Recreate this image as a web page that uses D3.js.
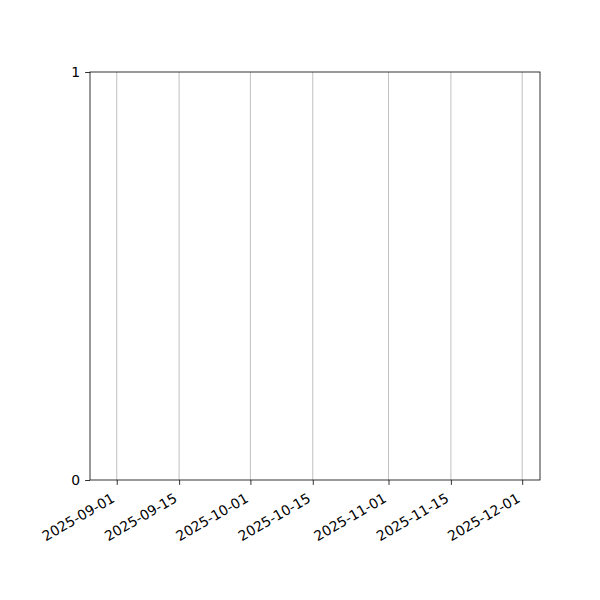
<!DOCTYPE html>
<html>
<head>
<meta charset="utf-8">
<script src="https://cdn.jsdelivr.net/npm/d3@7"></script>
<style>
  body { margin: 0; background: #fff; }
  svg { display: block; }
</style>
</head>
<body>
<svg id="chart" width="600" height="600"></svg>
<script>
// axis limits and ticks
const xDomain = ['2025-08-26', '2025-12-05'];
const xTickLabels = ['2025-09-01', '2025-09-15', '2025-10-01', '2025-10-15', '2025-11-01', '2025-11-15', '2025-12-01'];
const yDomain = [0, 1];
const yTickValues = [0, 1];

const parse = d3.utcParse('%Y-%m-%d');
const fmt = d3.utcFormat('%Y-%m-%d');
const FONT = 'DejaVu Sans';
const FS = 13.9;

const margin = { top: 72, right: 60, bottom: 120, left: 90 };
const width = 600 - margin.left - margin.right;
const height = 600 - margin.top - margin.bottom;

const svg = d3.select('#chart');
const g = svg.append('g').attr('transform', `translate(${margin.left},${margin.top})`);

const x = d3.scaleUtc().domain(xDomain.map(parse)).range([0, width]);
const y = d3.scaleLinear().domain(yDomain).range([height, 0]);
const xTicks = xTickLabels.map(parse);

// vertical grid
g.selectAll('.grid')
  .data(xTicks)
  .enter().append('line')
    .attr('class', 'grid')
    .attr('x1', d => x(d)).attr('x2', d => x(d))
    .attr('y1', 0).attr('y2', height)
    .attr('stroke', '#b0b0b0')
    .attr('stroke-width', 0.8);

const xAxis = g.append('g')
  .attr('transform', `translate(0,${height})`)
  .call(d3.axisBottom(x).tickValues(xTicks).tickFormat(fmt).tickSizeOuter(0).tickSize(4.9));
xAxis.attr('font-family', FONT).attr('font-size', FS);
xAxis.select('.domain').remove();
xAxis.selectAll('line').attr('stroke', '#000').attr('stroke-width', 0.8);

// rotate 30deg, then put the top-right corner of the rotated box under the tick (like ha=right, va=top)
const ang = -30 * Math.PI / 180;
xAxis.selectAll('text')
  .attr('fill', '#000')
  .attr('text-anchor', 'end')
  .attr('x', 0).attr('y', 0).attr('dy', null)
  .each(function () {
    const b = this.getBBox();
    const cs = Math.cos(ang), sn = Math.sin(ang);
    const pts = [[b.x, b.y], [b.x + b.width, b.y], [b.x, b.y + b.height], [b.x + b.width, b.y + b.height]]
      .map(([px, py]) => [px * cs - py * sn, px * sn + py * cs]);
    const maxX = d3.max(pts, p => p[0]);
    const minY = d3.min(pts, p => p[1]);
    d3.select(this).attr('transform', `translate(${-maxX},${4.9 + 4.9 - minY}) rotate(-30)`);
  });

const yAxis = g.append('g')
  .call(d3.axisLeft(y).tickValues(yTickValues).tickFormat(d3.format('d')).tickSizeOuter(0).tickSize(4.9).tickPadding(4.9));
yAxis.attr('font-family', FONT).attr('font-size', FS);
yAxis.select('.domain').remove();
yAxis.selectAll('line').attr('stroke', '#000').attr('stroke-width', 0.8);
yAxis.selectAll('text').attr('fill', '#000');

// frame
g.append('rect')
  .attr('x', 0).attr('y', 0)
  .attr('width', width).attr('height', height)
  .attr('fill', 'none')
  .attr('stroke', '#000')
  .attr('stroke-width', 0.8);
</script>
</body>
</html>
